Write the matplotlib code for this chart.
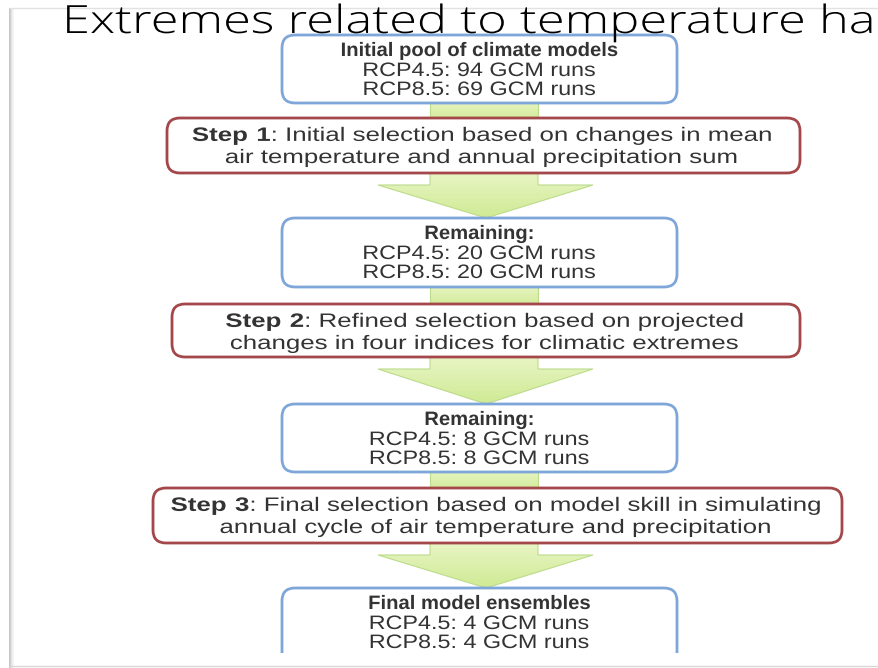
import matplotlib.pyplot as plt
from matplotlib.patches import FancyBboxPatch, Polygon, Rectangle
from matplotlib.colors import LinearSegmentedColormap
from matplotlib.patheffects import AbstractPathEffect
from matplotlib.transforms import Affine2D
from matplotlib import font_manager
import numpy as np

# ====== Datos del diagrama ======
titulo = "Extremes related to temperature ha"

# Cajas azules (modelos que quedan)
encabezados = ["Initial pool of climate models", "Remaining:", "Remaining:",
               "Final model ensembles"]
runs_rcp45 = [94, 20, 8, 4]
runs_rcp85 = [69, 20, 8, 4]

# Cajas rojas (pasos de selección)
pasos = ["Step 1", "Step 2", "Step 3"]
pasos_linea1 = ["Initial selection based on changes in mean",
                "Refined selection based on projected",
                "Final selection based on model skill in simulating"]
pasos_linea2 = ["air temperature and annual precipitation sum",
                "changes in four indices for climatic extremes",
                "annual cycle of air temperature and precipitation"]

# ====== Estilo ======
plt.rcParams['font.family'] = ['Liberation Sans', 'DejaVu Sans']
plt.rcParams['mathtext.fontset'] = 'custom'
plt.rcParams['mathtext.rm'] = 'Liberation Sans'
plt.rcParams['mathtext.bf'] = 'Liberation Sans:bold'

AZUL = '#7fa6d8'
ROJO = '#a3474a'
TEXTO = '#333333'
FS = 14

# posiciones en píxeles (y hacia abajo)
azul_x = (282, 677)
azul_y = [(35, 103), (218, 287), (404, 472), (588, 680)]
rojo_caja = [(167, 800, 118, 173), (172, 800, 304, 357), (153, 842, 488, 543)]
tallo = (430, 538)
punta = (378, 593, 486)
titulo_x = (62, 877)


class Estirar(AbstractPathEffect):
    """Ensancha el texto horizontalmente alrededor de x0 (píxeles)."""
    def __init__(self, sx, x0):
        super().__init__()
        self.sx = sx
        self.x0 = x0

    def draw_path(self, renderer, gc, tpath, affine, rgbFace=None):
        a = affine + Affine2D().translate(-self.x0, 0).scale(self.sx, 1).translate(self.x0, 0)
        renderer.draw_path(gc, tpath, a, rgbFace)


fig = plt.figure(figsize=(8.79, 6.68), dpi=100)
ax = fig.add_axes([0, 0, 1, 1])
ax.set_xlim(0, 879)
ax.set_ylim(668, 0)
ax.axis('off')


def texto(x, y, s, sx, **kw):
    t = ax.text(x, y, s, ha='center', va='baseline', fontsize=FS, color=TEXTO, zorder=4, **kw)
    t.set_path_effects([Estirar(sx, ax.transData.transform((x, y))[0])])
    return t


# ====== Marco de la diapositiva ======
for i, c in enumerate(['#bdbdbd', '#d2d2d2', '#e6e6e6', '#f2f2f2']):
    ax.plot([10 + i, 10 + i], [8, 668], color=c, lw=1.2, solid_capstyle='butt')
ax.plot([10, 879], [8, 8], color='#e2e2e2', lw=1)
ax.plot([10, 879], [666, 666], color='#d8d8d8', lw=1)

# ====== Flechas verdes (degradado) ======
grad = np.linspace(0, 1, 100).reshape(-1, 1)
verde = LinearSegmentedColormap.from_list('verde', ['#eaf6c8', '#cfea94'])


def flecha(pts, y0, y1):
    p = Polygon(pts, closed=True, facecolor='none', edgecolor='#bcdb8c', lw=0.8, zorder=2)
    ax.add_patch(p)
    im = ax.imshow(grad, cmap=verde, extent=(350, 620, y1, y0), aspect='auto', zorder=1)
    im.set_clip_path(p)


for k in range(3):
    yb = azul_y[k][1]
    yr = rojo_caja[k][2]
    flecha([(tallo[0], yb - 4), (tallo[1], yb - 4), (tallo[1], yr + 4), (tallo[0], yr + 4)],
           yb - 4, yr + 4)
    yr2 = rojo_caja[k][3]
    ytop = yr2 + 12
    ytip = azul_y[k + 1][0]
    flecha([(tallo[0], yr2 - 4), (tallo[1], yr2 - 4), (tallo[1], ytop), (punta[1], ytop),
            (punta[2], ytip), (punta[0], ytop), (tallo[0], ytop)], yr2 - 4, ytip)

# ====== Cajas azules ======
for k in range(4):
    y0, y1 = azul_y[k]
    caja = FancyBboxPatch((azul_x[0], y0), azul_x[1] - azul_x[0], y1 - y0,
                          boxstyle='round,pad=0,rounding_size=13',
                          facecolor='white', edgecolor=AZUL, lw=2.0, zorder=3)
    ax.add_patch(caja)
    if k == 3:
        caja.set_clip_path(Rectangle((0, 0), 879, 653, transform=ax.transData))
    cx = (azul_x[0] + azul_x[1]) / 2
    texto(cx, y0 + 21, encabezados[k], 1.04, fontweight='bold')
    texto(cx, y0 + 41, f"RCP4.5: {runs_rcp45[k]} GCM runs", 1.2)
    texto(cx, y0 + 60, f"RCP8.5: {runs_rcp85[k]} GCM runs", 1.2)

# ====== Cajas rojas ======
for k in range(3):
    x0, x1, y0, y1 = rojo_caja[k]
    ax.add_patch(FancyBboxPatch((x0, y0), x1 - x0, y1 - y0,
                                boxstyle='round,pad=0,rounding_size=13',
                                facecolor='white', edgecolor=ROJO, lw=2.0, zorder=3))
    cx = (x0 + x1) / 2
    paso = pasos[k].replace(' ', r'\ ')
    texto(cx, y0 + 23, r"$\mathbf{" + paso + "}$: " + pasos_linea1[k], 1.33)
    texto(cx, y0 + 45, pasos_linea2[k], 1.33)

# ====== Título (letra fina, ensanchada de forma uniforme) ======
fam_titulo = 'DejaVu Sans'
for fam in ['Lato', 'Roboto', 'Open Sans', 'Inter', 'DejaVu Sans']:
    try:
        ruta = font_manager.findfont(font_manager.FontProperties(family=fam, weight='light'),
                                     fallback_to_default=False)
        if 'light' in ruta.lower():
            fam_titulo = fam
            break
    except Exception:
        pass

rend = fig.canvas.get_renderer()
t = ax.text(titulo_x[0], 33, titulo, ha='left', va='baseline', fontsize=28,
            family=fam_titulo, fontweight='light', color='black', zorder=5)
w = t.get_window_extent(renderer=rend).width
x0 = ax.transData.transform((titulo_x[0], 33))[0]
t.set_path_effects([Estirar((titulo_x[1] - titulo_x[0]) / w, x0)])

fig.savefig("out.png", dpi=100)
